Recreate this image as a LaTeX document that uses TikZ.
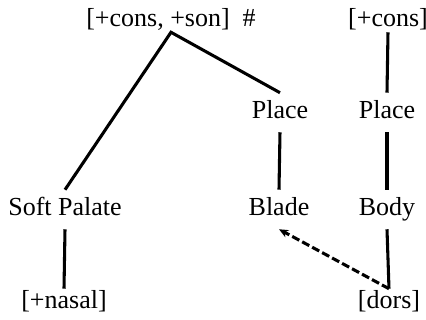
\documentclass[tikz,border=0pt]{standalone}
\usepackage{fontspec}
\setmainfont{Liberation Serif}
\usetikzlibrary{arrows.meta}
\begin{document}
\begin{tikzpicture}[x=0.75pt,y=-0.75pt,
  lbl/.style={font=\fontsize{19.5}{22}\selectfont, anchor=base, inner xsep=0pt,
    text height=12.75pt, text depth=3pt},
  toplbl/.style={lbl, inner ysep=0.75pt},
  midlbl/.style={lbl, inner ysep=6.75pt},
  botlbl/.style={lbl, inner ysep=2.25pt},
  edge/.style={line width=2.3pt},
  dashedge/.style={line width=2.3pt, dash pattern=on 6pt off 2.5pt, -{Stealth[length=7pt,width=6pt]}}]
\useasboundingbox (0,0) rectangle (426,320);
\node[toplbl] (root) at (171,27) {[+cons, +son]\ \ \#};
\node[toplbl] (cons) at (388,27) {[+cons]};
\node[midlbl] (placeL) at (280,119) {Place};
\node[midlbl] (placeR) at (387,119) {Place};
\node[midlbl] (soft) at (65,216) {Soft Palate};
\node[midlbl] (blade) at (279,216) {Blade};
\node[midlbl] (body) at (387,216) {Body};
\node[botlbl] (nasal) at (64,309) {[+nasal]};
\node[botlbl] (dors) at (389,309) {[dors]};
\draw[edge] (soft.north) -- (root.south) -- (placeL.north);
\draw[edge] (cons.south) -- (placeR.north);
\draw[edge] (placeL.south) -- (blade.north);
\draw[edge] (placeR.south) -- (body.north);
\draw[edge] (soft.south) -- (nasal.north);
\draw[edge] (body.south) -- (dors.north);
\draw[dashedge] (dors.north) -- (blade.south);
\end{tikzpicture}
\end{document}
